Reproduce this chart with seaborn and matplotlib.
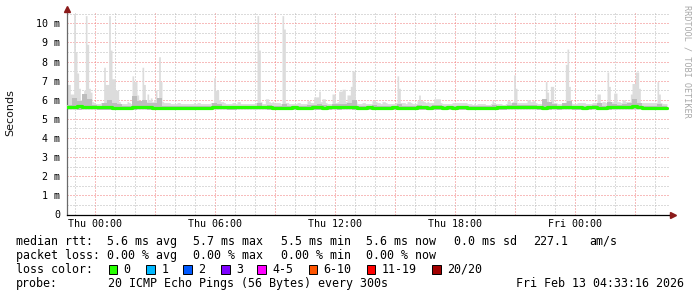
import numpy as np
import pandas as pd
import matplotlib
matplotlib.use("Agg")
import matplotlib.pyplot as plt
import matplotlib.dates as mdates
from matplotlib.patches import Rectangle
from matplotlib.ticker import FuncFormatter, MultipleLocator
import seaborn as sns

# ---------------- data ----------------
start_time = "2026-02-11 22:36"
fine_step = "5min"
coarse_step = "15min"

# maximum ping per 5-minute step (seconds, in ms units shown as "m")
smoke_max = [
    6.8, 6.8, 6.3, 6.3, 10.5, 8.5, 7.4, 6.6, 6.0, 6.0, 6.5, 10.4, 8.9, 6.6, 6.4,
    5.9, 5.85, 5.8, 5.8, 5.8, 5.85, 5.85, 7.7, 6.8, 6.8, 10.4, 8.6, 7.1, 7.1, 6.5,
    6.5, 5.9, 5.8, 5.8, 5.8, 5.8, 5.9, 5.85, 5.8, 7.25, 6.95, 6.95, 6.25, 5.9, 5.9,
    7.7, 6.8, 5.9, 6.3, 6.0, 6.1, 5.9, 6.0, 6.5, 6.0, 8.25, 6.95, 5.9, 5.85, 5.85,
    5.85, 5.85, 5.8, 5.8, 5.8, 5.8, 5.85, 5.85, 5.8, 5.8, 5.8, 5.8, 5.8, 5.8, 5.8,
    5.8, 5.85, 5.8, 5.85, 5.85, 5.8, 5.8, 5.8, 5.8, 5.8, 5.8, 5.85, 5.85, 7.15, 6.5,
    6.5, 6.0, 5.9, 5.9, 5.85, 5.8, 5.8, 5.8, 5.8, 5.85, 5.85, 5.8, 5.9, 5.9, 5.8,
    5.8, 5.8, 5.8, 5.8, 5.8, 5.8, 5.8, 5.8, 5.85, 10.4, 8.6, 5.9, 5.8, 5.8, 6.05,
    6.05, 5.9, 5.85, 5.9, 5.85, 5.85, 5.85, 5.85, 5.8, 10.4, 9.7, 5.85, 5.85, 5.8, 5.8,
    5.8, 5.8, 5.8, 5.85, 5.85, 5.8, 5.8, 5.8, 5.8, 5.95, 5.95, 5.85, 5.85, 6.15, 6.15,
    6.15, 6.45, 5.9, 6.05, 6.05, 5.85, 5.8, 5.8, 5.8, 6.3, 6.3, 5.85, 5.9, 6.45, 6.45,
    6.55, 6.55, 5.9, 6.25, 6.25, 6.7, 7.5, 7.5, 5.9, 5.8, 5.8, 5.8, 5.85, 5.85, 5.8,
    5.8, 5.8, 5.8, 5.95, 5.95, 5.9, 5.85, 5.85, 5.8, 5.9, 5.9, 5.85, 5.8, 5.8, 5.8,
    5.8, 5.8, 5.85, 7.25, 6.6, 5.85, 5.85, 5.85, 5.8, 5.9, 5.9, 5.85, 5.8, 5.8, 5.8,
    5.95, 6.25, 5.95, 5.95, 5.9, 5.85, 5.9, 5.85, 5.85, 5.85, 6.05, 6.05, 6.05, 6.05, 5.85,
    5.8, 5.8, 5.8, 5.8, 5.8, 5.8, 5.85, 5.85, 5.85, 5.85, 5.85, 5.85, 5.85, 5.85, 5.85,
    5.8, 5.8, 5.8, 5.75, 5.8, 5.75, 5.8, 5.8, 5.8, 5.8, 5.8, 5.75, 5.75, 5.75, 5.8,
    5.95, 5.85, 5.8, 5.8, 5.8, 5.8, 5.75, 5.75, 5.8, 5.95, 5.95, 5.85, 5.9, 7.3, 6.6,
    5.85, 5.85, 5.85, 5.85, 5.85, 5.85, 6.0, 6.0, 5.9, 5.95, 5.95, 5.85, 5.8, 5.8, 5.8,
    5.85, 5.85, 6.95, 6.4, 5.9, 6.7, 6.7, 5.85, 5.85, 5.8, 5.8, 5.8, 5.85, 5.85, 7.85,
    8.65, 6.7, 5.85, 5.8, 5.8, 5.8, 5.85, 5.85, 5.85, 5.85, 5.85, 5.8, 5.8, 5.8, 5.8,
    5.85, 5.85, 5.85, 6.3, 6.3, 5.85, 5.9, 5.9, 5.85, 7.45, 6.7, 5.9, 5.9, 6.35, 6.35,
    5.9, 5.9, 5.85, 6.0, 6.0, 5.9, 5.9, 5.9, 6.3, 6.85, 6.85, 7.45, 7.45, 6.6, 5.85,
    5.85, 5.85, 5.85, 5.85, 5.85, 5.85, 5.85, 5.85, 5.85, 6.95, 6.3, 5.85, 5.8, 5.8, 5.8,
]

# denser (darker) part of the smoke, per 15-minute step
smoke_upper = [
    5.75, 6.1, 5.95, 6.3, 6.05, 5.75, 5.7, 5.85, 6.0, 5.85,
    5.8, 5.7, 5.7, 6.2, 5.95, 6.0, 5.85, 5.85, 6.1, 5.7,
    5.7, 5.7, 5.7, 5.7, 5.7, 5.7, 5.7, 5.7, 5.7, 5.85,
    5.8, 5.7, 5.7, 5.7, 5.7, 5.7, 5.7, 5.7, 5.85, 5.7,
    5.75, 5.7, 5.7, 5.8, 5.7, 5.7, 5.7, 5.7, 5.75, 5.75,
    5.8, 5.75, 5.7, 5.8, 5.8, 5.8, 5.85, 6.0, 5.7, 5.7,
    5.7, 5.75, 5.7, 5.7, 5.7, 5.7, 5.8, 5.7, 5.7, 5.7,
    5.75, 5.7, 5.7, 5.75, 5.75, 5.7, 5.7, 5.7, 5.7, 5.7,
    5.7, 5.7, 5.7, 5.7, 5.7, 5.75, 5.7, 5.7, 5.75, 5.85,
    5.75, 5.75, 5.75, 5.75, 5.7, 6.05, 5.9, 5.8, 5.7, 5.85,
    5.95, 5.7, 5.7, 5.7, 5.7, 5.75, 5.85, 5.7, 5.9, 5.8,
    5.75, 5.8, 5.85, 6.05, 5.85, 5.7, 5.7, 5.7, 5.8, 5.7,
]

smoke_min = [
    5.50, 5.50, 5.49, 5.50, 5.50, 5.50, 5.49, 5.48, 5.49, 5.48,
    5.48, 5.47, 5.48, 5.49, 5.50, 5.50, 5.49, 5.48, 5.45, 5.47,
    5.48, 5.48, 5.47, 5.48, 5.48, 5.49, 5.48, 5.48, 5.49, 5.50,
    5.50, 5.50, 5.49, 5.49, 5.50, 5.50, 5.50, 5.51, 5.51, 5.50,
    5.49, 5.48, 5.48, 5.49, 5.49, 5.49, 5.48, 5.48, 5.48, 5.49,
    5.49, 5.48, 5.49, 5.50, 5.49, 5.50, 5.50, 5.49, 5.48, 5.48,
    5.49, 5.48, 5.47, 5.48, 5.48, 5.49, 5.48, 5.47, 5.48, 5.48,
    5.49, 5.49, 5.48, 5.49, 5.49, 5.48, 5.49, 5.48, 5.49, 5.49,
    5.48, 5.47, 5.47, 5.48, 5.47, 5.48, 5.49, 5.49, 5.50, 5.52,
    5.52, 5.51, 5.51, 5.50, 5.49, 5.48, 5.49, 5.50, 5.49, 5.50,
    5.50, 5.49, 5.49, 5.48, 5.49, 5.50, 5.48, 5.47, 5.49, 5.50,
    5.50, 5.50, 5.51, 5.54, 5.52, 5.48, 5.48, 5.47, 5.48, 5.48,
]

median_rtt = [
    5.63, 5.64, 5.65, 5.64, 5.63, 5.62, 5.60, 5.60, 5.61, 5.59,
    5.58, 5.57, 5.58, 5.60, 5.61, 5.62, 5.60, 5.59, 5.56, 5.57,
    5.58, 5.58, 5.57, 5.58, 5.58, 5.59, 5.58, 5.58, 5.59, 5.61,
    5.62, 5.61, 5.60, 5.60, 5.61, 5.61, 5.62, 5.62, 5.63, 5.62,
    5.60, 5.59, 5.58, 5.59, 5.59, 5.60, 5.59, 5.58, 5.59, 5.60,
    5.60, 5.59, 5.60, 5.61, 5.60, 5.61, 5.62, 5.60, 5.59, 5.59,
    5.60, 5.59, 5.58, 5.59, 5.59, 5.60, 5.59, 5.58, 5.59, 5.59,
    5.60, 5.60, 5.59, 5.60, 5.60, 5.59, 5.60, 5.59, 5.60, 5.60,
    5.59, 5.58, 5.58, 5.59, 5.58, 5.59, 5.60, 5.60, 5.62, 5.64,
    5.64, 5.63, 5.63, 5.62, 5.60, 5.59, 5.60, 5.61, 5.60, 5.61,
    5.62, 5.60, 5.60, 5.59, 5.60, 5.61, 5.59, 5.58, 5.60, 5.61,
    5.62, 5.61, 5.63, 5.67, 5.64, 5.59, 5.59, 5.58, 5.59, 5.59,
]

y_ticks = [0, 1, 2, 3, 4, 5, 6, 7, 8, 9, 10]
y_tick_labels = ["0", "1 m", "2 m", "3 m", "4 m", "5 m", "6 m", "7 m", "8 m", "9 m", "10 m"]
x_start = "2026-02-11 22:36"
x_end = "2026-02-13 04:42"

stats_rows = [
    ["median rtt:", "5.6 ms avg", "5.7 ms max", "5.5 ms min", "5.6 ms now", "0.0 ms sd", "227.1", "am/s"],
    ["packet loss:", "0.00 % avg", "0.00 % max", "0.00 % min", "0.00 % now"],
]
loss_title = "loss color:"
loss_labels = ["0", "1", "2", "3", "4-5", "6-10", "11-19", "20/20"]
loss_colors = ["#26ff00", "#00b8ff", "#0059ff", "#7e00ff", "#ff00ff", "#ff5500", "#ff0000", "#a10000"]
probe_title = "probe:"
probe_text = "20 ICMP Echo Pings (56 Bytes) every 300s"
stamp_text = "Fri Feb 13 04:33:16 2026"
ylabel_text = "Seconds"
watermark = "RRDTOOL / TOBI OETIKER"

# ---------------- figure ----------------
sns.set_theme(style="white")
plt.rcParams["font.family"] = ["DejaVu Sans Mono", "DejaVu Sans"]
plt.rcParams["axes.unicode_minus"] = False

W, H = 697, 297
fig = plt.figure(figsize=(W / 100, H / 100), dpi=100)
fig.patch.set_facecolor("white")


def fx(px):
    return px / W


def fy(py):
    return 1 - py / H


ax_left, ax_right, ax_bottom, ax_top = 67, 669, 214.5, 11.8
ax = fig.add_axes([fx(ax_left), fy(ax_bottom), (ax_right - ax_left) / W, (ax_bottom - ax_top) / H])
ax.set_facecolor("white")


def ext(v):
    return np.append(np.asarray(v, dtype=float), v[-1])


t_fine = pd.date_range(start_time, periods=len(smoke_max) + 1, freq=fine_step).to_numpy()
t_coarse = pd.date_range(start_time, periods=len(median_rtt) + 1, freq=coarse_step).to_numpy()

# smoke
ax.fill_between(t_fine, 5.5, ext(smoke_max), step="post", color="#dcdcdc", lw=0, zorder=2)
ax.fill_between(t_coarse, ext(smoke_min), ext(smoke_upper), step="post", color="#bdbdbd", lw=0, zorder=3)

# median line
df = pd.DataFrame({"time": t_coarse, "median": ext(median_rtt)})
sns.lineplot(data=df, x="time", y="median", ax=ax, color="#26ff00", lw=2.3,
             drawstyle="steps-post", zorder=4, legend=False)

ax.set_xlim(pd.Timestamp(x_start), pd.Timestamp(x_end))
ax.set_ylim(0, 10.6)

# ticks / grid
ax.set_yticks(y_ticks)
ax.set_yticklabels(y_tick_labels)
ax.yaxis.set_minor_locator(MultipleLocator(0.5))
ax.xaxis.set_major_locator(mdates.HourLocator(byhour=range(0, 24, 3)))
ax.xaxis.set_minor_locator(mdates.HourLocator())


def xfmt(v, pos):
    d = mdates.num2date(v)
    return d.strftime("%a %H:%M") if d.hour % 6 == 0 else ""


ax.xaxis.set_major_formatter(FuncFormatter(xfmt))
ax.tick_params(axis="both", which="both", length=0, labelsize=7.2, colors="black")
ax.tick_params(axis="y", pad=5)
ax.tick_params(axis="x", pad=3.2)

dot = (0, (1, 2))
ax.grid(which="minor", color="#b8b8b8", linestyle=dot, lw=0.72, zorder=1)
ax.grid(which="major", color="#f07a7a", linestyle=dot, lw=0.72, zorder=1)
ax.set_axisbelow(True)

for s in ["top", "right"]:
    ax.spines[s].set_visible(False)
ax.spines["left"].set_color("#6a6a6a")
ax.spines["left"].set_linewidth(0.9)
ax.spines["bottom"].set_color("black")
ax.spines["bottom"].set_linewidth(0.9)
ax.set_xlabel("")
ax.set_ylabel("")

# axis extensions and arrows
ax.plot([0, 0], [1, 1.012], transform=ax.transAxes, color="#6a6a6a", lw=0.9, clip_on=False)
ax.plot([1, 1.006], [0, 0], transform=ax.transAxes, color="black", lw=0.9, clip_on=False)
ax.plot([0], [1.015], transform=ax.transAxes, marker="^", ms=4.2, color="#8b1a1a", clip_on=False, zorder=6)
ax.plot([1.0065], [0], transform=ax.transAxes, marker=">", ms=4.2, color="#8b1a1a", clip_on=False, zorder=6)

# y label
fig.text(fx(10.5), fy(113), ylabel_text, rotation=90, ha="center", va="center",
         fontsize=8, family="DejaVu Sans", color="#111111")
# watermark
fig.text(fx(687), fy(5), watermark, rotation=270, ha="center", va="top",
         fontsize=6.1, color="#a8a8a8")

# legend / stats text
fs = 8.4
row_y = [241.5, 255.5, 269.5, 283.5]
row1_x = [15.6, 107, 193.5, 280.6, 366.4, 453.5, 533, 589]
row2_x = [15.6, 107, 193.5, 280.6, 366.4]
for txt, x in zip(stats_rows[0], row1_x):
    fig.text(fx(x), fy(row_y[0]), txt, ha="left", va="center", fontsize=fs, color="black")
for txt, x in zip(stats_rows[1], row2_x):
    fig.text(fx(x), fy(row_y[1]), txt, ha="left", va="center", fontsize=fs, color="black")

fig.text(fx(15.6), fy(row_y[2]), loss_title, ha="left", va="center", fontsize=fs, color="black")
box_x = [108.6, 146.4, 183.3, 221.2, 257.3, 308.5, 366.8, 432.3]
for lab, col, bx in zip(loss_labels, loss_colors, box_x):
    fig.add_artist(Rectangle((fx(bx), fy(row_y[2] + 4.5)), 8.5 / W, 9 / H,
                             transform=fig.transFigure, facecolor=col,
                             edgecolor="black", lw=0.7))
    fig.text(fx(bx + 15), fy(row_y[2]), lab, ha="left", va="center", fontsize=fs, color="black")

fig.text(fx(15.6), fy(row_y[3]), probe_title, ha="left", va="center", fontsize=fs, color="black")
fig.text(fx(107.5), fy(row_y[3]), probe_text, ha="left", va="center", fontsize=fs, color="black")
fig.text(fx(683.5), fy(row_y[3]), stamp_text, ha="right", va="center", fontsize=fs, color="black")

fig.savefig("out.png", dpi=100, facecolor="white")
